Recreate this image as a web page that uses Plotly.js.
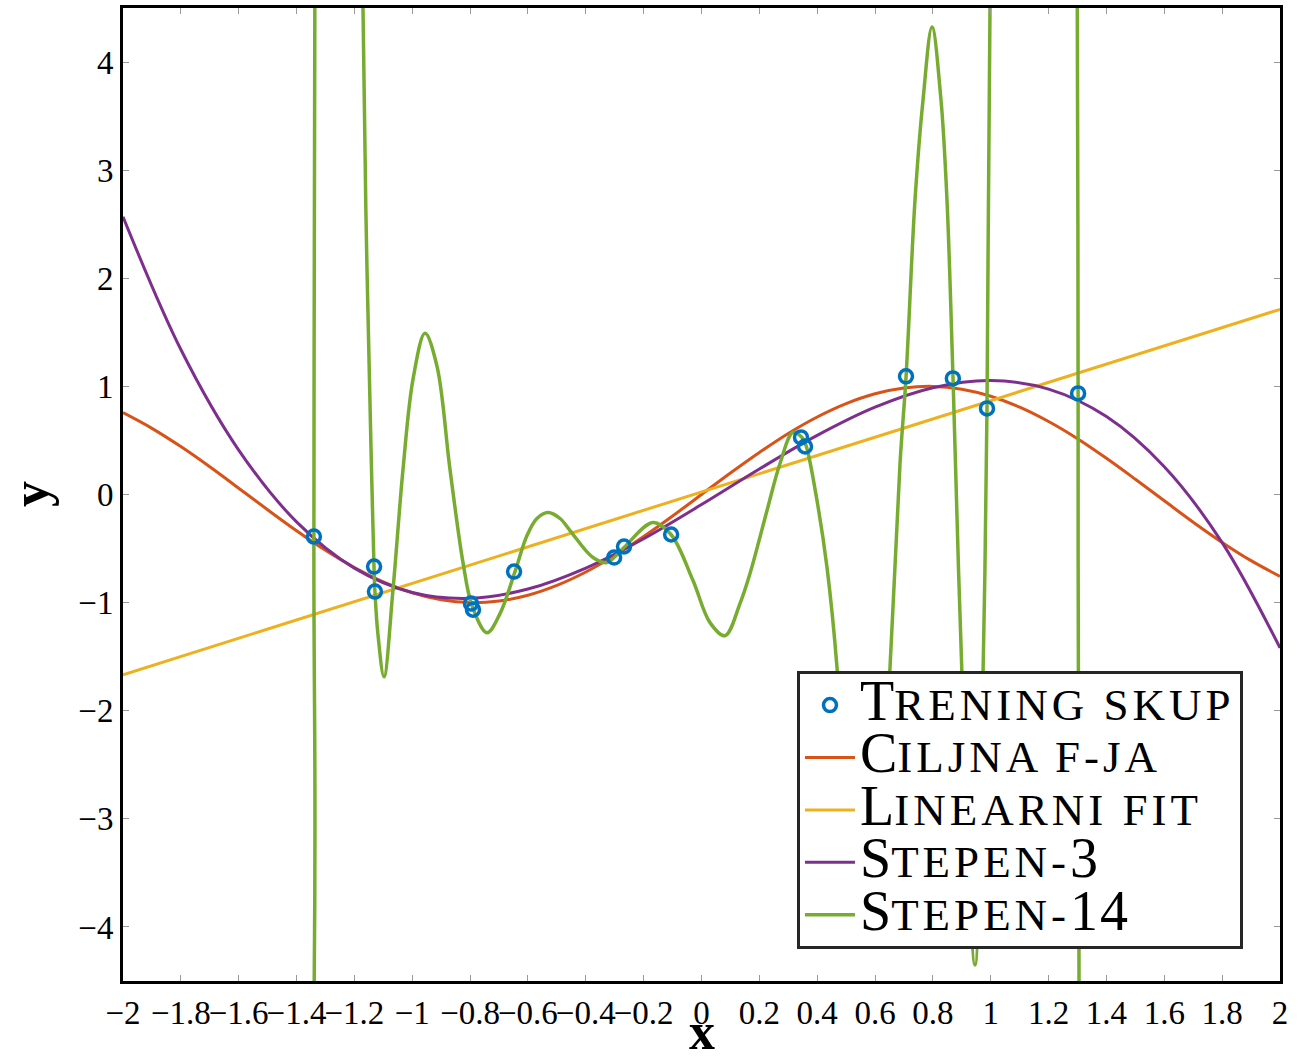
<!DOCTYPE html>
<html>
<head>
<meta charset="utf-8">
<script src="https://cdn.plot.ly/plotly-3.0.1.min.js"></script>
<style>html,body{margin:0;padding:0;background:#fff;}#chart{width:1301px;height:1062px;}</style>
</head>
<body>
<div id="chart"></div>
<script>
// Training set (Trening skup)
const trainX = [-1.340, -1.132, -1.129, -0.797, -0.790, -0.648, -0.302, -0.268, -0.105, 0.344, 0.358, 0.707, 0.869, 0.987, 1.302];
const trainY = [-0.389, -0.667, -0.898, -1.009, -1.065, -0.713, -0.583, -0.481, -0.370, 0.528, 0.444, 1.093, 1.074, 0.796, 0.935];

// Target function (Ciljna f-ja)
const targetX = [-2.0,-1.9,-1.8,-1.7,-1.6,-1.5,-1.4,-1.3,-1.2,-1.1,-1.0,-0.9,-0.8,-0.7,-0.6,-0.5,-0.4,-0.3,-0.2,-0.1,0.0,0.1,0.2,0.3,0.4,0.5,0.6,0.7,0.8,0.9,1.0,1.1,1.2,1.3,1.4,1.5,1.6,1.7,1.8,1.9,2.0];
const targetY = [0.757,0.612,0.443,0.256,0.058,-0.141,-0.335,-0.516,-0.675,-0.808,-0.909,-0.974,-1.000,-0.985,-0.932,-0.841,-0.717,-0.565,-0.389,-0.199,0.000,0.199,0.389,0.565,0.717,0.841,0.932,0.985,1.000,0.974,0.909,0.808,0.675,0.516,0.335,0.141,-0.058,-0.256,-0.443,-0.612,-0.757];

// Linear fit (Linearni fit)
const linX = [-2.0, 2.0];
const linY = [-1.667, 1.713];

// Degree-3 fit (Stepen-3)
const cubX = [-2.0,-1.8,-1.6,-1.4,-1.2,-1.0,-0.8,-0.6,-0.4,-0.2,0.0,0.2,0.4,0.6,0.8,1.0,1.2,1.4,1.6,1.8,2.0];
const cubY = [2.569,1.341,0.411,-0.253,-0.681,-0.906,-0.960,-0.874,-0.680,-0.409,-0.093,0.236,0.547,0.808,0.988,1.055,0.975,0.721,0.257,-0.445,-1.419];

// Degree-14 fit (Stepen-14) (values beyond +-4.5 run off the chart)
const degX = [-2.0,-1.344,-1.340,-1.336,-1.25,-1.1703,-1.1565,-1.1427,-1.1323,-1.129,-1.1185,-1.0977,-1.0666,-1.0320,-0.9974,-0.956,-0.9144,-0.8695,-0.8245,-0.7934,-0.7416,-0.6966,-0.6448,-0.6033,-0.569,-0.5307,-0.489,-0.4546,-0.3751,-0.3267,-0.3025,-0.2645,-0.1677,-0.1054,-0.0294,0.0294,0.0812,0.133,0.1677,0.2265,0.2714,0.3163,0.3475,0.3613,0.3993,0.4339,0.4685,0.50,0.56,0.62,0.6517,0.6863,0.7070,0.7381,0.7658,0.7969,0.8280,0.8487,0.8695,0.9006,0.9455,0.9732,0.9870,0.9974,1.008,1.15,1.298,1.302,1.306,2.0];
const degY = [-60,-5.5,-0.389,5.5,40,4.5,2.093,0.444,-0.667,-0.898,-1.296,-1.685,-0.880,0.231,1.065,1.491,1.185,0.231,-0.630,-1.028,-1.278,-1.102,-0.713,-0.380,-0.222,-0.167,-0.222,-0.333,-0.583,-0.630,-0.583,-0.481,-0.259,-0.370,-0.796,-1.185,-1.306,-1.009,-0.731,-0.148,0.287,0.574,0.528,0.454,-0.056,-0.676,-1.602,-3.0,-3.7,-2.9,-1.602,0.287,1.083,2.722,3.648,4.324,3.648,2.722,1.083,-1.676,-4.352,-1.676,0.796,4.5,5.5,60,5.5,0.935,-5.5,-200];

// Legend names (small caps written as capital + smaller capitals)
const SERIF = "font-family:'Liberation Serif',serif;";
const BIG = SERIF + 'font-size:56px';
const SMALL = SERIF + 'font-size:45px;letter-spacing:4px';
const nameTrain = '<span style="' + BIG + '">T</span><span style="' + SMALL + '">RENING SKUP</span>';
const nameTarget = '<span style="' + BIG + '">C</span><span style="' + SMALL + '">ILJNA F-JA</span>';
const nameLin = '<span style="' + BIG + '">L</span><span style="' + SMALL + '">INEARNI FIT</span>';
const nameCub = '<span style="' + BIG + '">S</span><span style="' + SMALL + '">TEPEN-</span><span style="' + BIG + '">3</span>';
const nameDeg = '<span style="' + BIG + '">S</span><span style="' + SMALL + '">TEPEN-</span><span style="' + BIG + ';letter-spacing:2px">14</span>';

// Axis ticks and titles
const xTickVals = [-2,-1.8,-1.6,-1.4,-1.2,-1,-0.8,-0.6,-0.4,-0.2,0,0.2,0.4,0.6,0.8,1,1.2,1.4,1.6,1.8,2];
const xTickText = ['\u22122','\u22121.8','\u22121.6','\u22121.4','\u22121.2','\u22121','\u22120.8','\u22120.6','\u22120.4','\u22120.2','0','0.2','0.4','0.6','0.8','1','1.2','1.4','1.6','1.8','2'];
const yTickVals = [-4,-3,-2,-1,0,1,2,3,4];
const yTickText = ['\u22124','\u22123','\u22122','\u22121','0','1','2','3','4'];
const xTitle = 'x';
const yTitle = 'y';

const FONT = '"Liberation Serif", "DejaVu Serif", serif';

const traces = [
  {x: targetX, y: targetY, type: 'scatter', mode: 'lines', name: nameTarget,
   line: {color: '#D95319', width: 3, shape: 'spline'}, legendrank: 2},
  {x: linX, y: linY, type: 'scatter', mode: 'lines', name: nameLin,
   line: {color: '#EDB120', width: 3}, legendrank: 3},
  {x: cubX, y: cubY, type: 'scatter', mode: 'lines', name: nameCub,
   line: {color: '#7E2F8E', width: 3, shape: 'spline'}, legendrank: 4},
  {x: degX, y: degY, type: 'scatter', mode: 'lines', name: nameDeg,
   line: {color: '#77AC30', width: 3.5, shape: 'spline', smoothing: 1}, legendrank: 5},
  {x: trainX, y: trainY, type: 'scatter', mode: 'markers', name: nameTrain,
   marker: {symbol: 'circle-open', size: 13, color: '#0072BD', line: {width: 3.5, color: '#0072BD'}}, legendrank: 1}
];

const layout = {
  width: 1301, height: 1062,
  margin: {l: 123, r: 21, t: 8, b: 81, pad: 0},
  paper_bgcolor: '#ffffff', plot_bgcolor: '#ffffff',
  font: {family: FONT, color: '#000000', size: 32},
  showlegend: true,
  legend: {
    x: 0.968, y: 0.033, xanchor: 'right', yanchor: 'bottom',
    bgcolor: '#ffffff', bordercolor: '#262626', borderwidth: 3,
    font: {family: FONT, size: 38, color: '#000000'},
    itemwidth: 50, tracegroupgap: 0
  },
  xaxis: {
    range: [-2, 2], tickmode: 'array', tickvals: xTickVals, ticktext: xTickText,
    tickangle: 0, ticks: 'inside', ticklen: 6, tickwidth: 1, tickcolor: '#9a9a9a',
    showline: true, linecolor: '#000000', linewidth: 3, mirror: 'ticks',
    showgrid: false, zeroline: false,
    tickfont: {family: FONT, size: 33, color: '#000000'}
  },
  yaxis: {
    range: [-4.5, 4.5], tickmode: 'array', tickvals: yTickVals, ticktext: yTickText,
    ticks: 'inside', ticklen: 6, tickwidth: 1, tickcolor: '#9a9a9a',
    showline: true, linecolor: '#000000', linewidth: 3, mirror: 'ticks',
    showgrid: false, zeroline: false,
    tickfont: {family: FONT, size: 33, color: '#000000'}
  },
  annotations: [
    {text: '<b>' + xTitle + '</b>', xref: 'paper', yref: 'paper', x: 0.5, y: -0.0832,
     xanchor: 'center', yanchor: 'bottom', showarrow: false,
     font: {family: FONT, size: 52, color: '#000000'}},
    {text: '<b>' + yTitle + '</b>', xref: 'paper', yref: 'paper', x: -0.1063, y: 0.5,
     xanchor: 'left', yanchor: 'middle', showarrow: false, textangle: -90,
     font: {family: FONT, size: 52, color: '#000000'}}
  ]
};

Plotly.newPlot('chart', traces, layout, {displayModeBar: false, staticPlot: true});
</script>
</body>
</html>
